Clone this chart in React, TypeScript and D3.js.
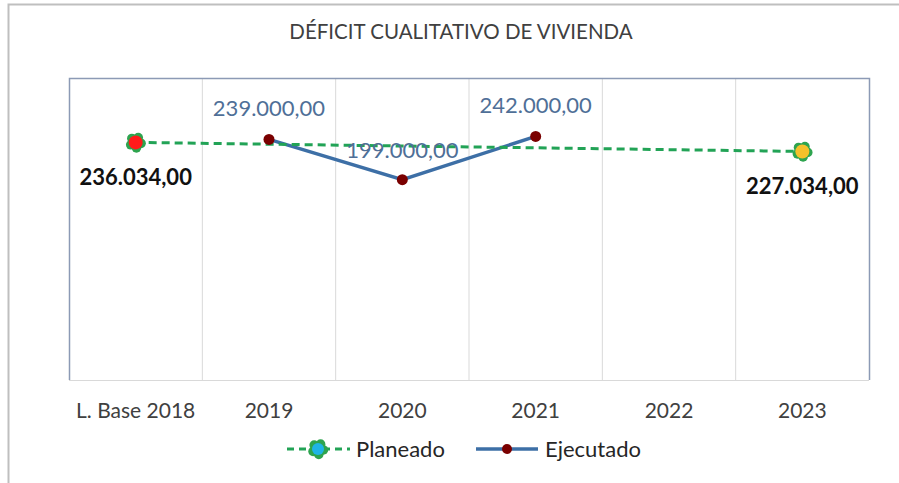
import React from "react";
import * as d3 from "d3";

const categories = ["L. Base 2018", "2019", "2020", "2021", "2022", "2023"];
const planeado: (number | null)[] = [236034, null, null, null, null, 227034];
const ejecutado: (number | null)[] = [null, 239000, 199000, 242000, null, null];
const planeadoLabels = ["236.034,00", "", "", "", "", "227.034,00"];
const ejecutadoLabels = ["", "239.000,00", "199.000,00", "242.000,00", "", ""];
const planeadoFills = ["#FF1A1A", null, null, null, null, "#F5C12A"];
const title = "DÉFICIT CUALITATIVO DE VIVIENDA";
const seriesNames = ["Planeado", "Ejecutado"];

const W = 899;
const H = 483;
const plot = { left: 69, right: 869, top: 78, bottom: 380 };
const FONT = "Lato, 'Open Sans', sans-serif";

function Blob({ cx, cy, fill, inner }: { cx: number; cy: number; fill: string; inner: number }) {
  const angles = [10, 82, 154, 226, 298];
  return (
    <g>
      {angles.map((a) => {
        const r = (a * Math.PI) / 180;
        return <circle key={a} cx={cx + Math.cos(r) * 5.5} cy={cy + Math.sin(r) * 5.5} r={4.8} fill="#2EA44F" />;
      })}
      <circle cx={cx} cy={cy} r={inner} fill={fill} />
    </g>
  );
}

export default function App() {
  const x = d3
    .scaleBand<string>()
    .domain(categories)
    .range([plot.left, plot.right]);
  const cx = (c: string) => (x(c) as number) + x.bandwidth() / 2;
  const y = d3.scaleLinear().domain([0, 300000]).range([plot.bottom, plot.top]);

  const planPts = categories
    .map((c, i) => ({ c, v: planeado[i], i }))
    .filter((d) => d.v !== null) as { c: string; v: number; i: number }[];
  const ejePts = categories
    .map((c, i) => ({ c, v: ejecutado[i], i }))
    .filter((d) => d.v !== null) as { c: string; v: number; i: number }[];

  const line = d3
    .line<{ c: string; v: number }>()
    .x((d) => cx(d.c))
    .y((d) => y(d.v));

  const gridX = categories.slice(1).map((c) => x(c) as number);

  return (
    <svg width={W} height={H} style={{ position: "absolute", left: 0, top: 0 }} fontFamily={FONT}>
      <rect x={0} y={0} width={W} height={H} fill="#fff" />
      <rect x={8.5} y={4.5} width={W + 10} height={H + 10} fill="none" stroke="#BFBFBF" strokeWidth={2} />
      <text x={461} y={39} textAnchor="middle" fontSize={20.5} fill="#404040">
        {title}
      </text>
      {gridX.map((gx, i) => (
        <line key={i} x1={gx} x2={gx} y1={plot.top} y2={plot.bottom} stroke="#D9D9D9" strokeWidth={1} />
      ))}
      <line x1={plot.left} x2={plot.right} y1={plot.bottom + 0.5} y2={plot.bottom + 0.5} stroke="#D9D9D9" />
      <path
        d={`M${plot.left + 0.5},${plot.bottom}V${plot.top + 0.5}H${plot.right + 0.5}V${plot.bottom}`}
        fill="none"
        stroke="#8C9AB5"
        strokeWidth={1.5}
      />
      {categories.map((c) => (
        <text key={c} x={cx(c)} y={418} textAnchor="middle" fontSize={21} fill="#404040">
          {c}
        </text>
      ))}
      {/* Ejecutado */}
      <path d={line(ejePts) || ""} fill="none" stroke="#3D6FA6" strokeWidth={3.5} />
      {/* Planeado */}
      <path d={line(planPts) || ""} fill="none" stroke="#22A356" strokeWidth={3} strokeDasharray="8,5" />
      {ejePts.map((d) => (
        <circle key={d.c} cx={cx(d.c)} cy={y(d.v)} r={5.5} fill="#7A0000" />
      ))}
      {planPts.map((d) => (
        <Blob key={d.c} cx={cx(d.c)} cy={y(d.v)} fill={planeadoFills[d.i] as string} inner={7} />
      ))}
      {ejePts.map((d) => (
        <text
          key={d.c}
          x={cx(d.c)}
          y={d.c === "2020" ? y(d.v) - 22 : y(d.v) - 23.5}
          textAnchor="middle"
          fontSize={22}
          fill="#4F6F97"
        >
          {ejecutadoLabels[d.i]}
        </text>
      ))}
      {planPts.map((d) => (
        <text
          key={d.c}
          x={cx(d.c)}
          y={y(d.v) + 43}
          textAnchor="middle"
          fontSize={22}
          fontWeight="bold"
          fill="#111"
        >
          {planeadoLabels[d.i]}
        </text>
      ))}
      {/* Legend */}
      <g>
        <line x1={287} x2={350} y1={449} y2={449} stroke="#22A356" strokeWidth={3} strokeDasharray="7,5" />
        <Blob cx={318} cy={449} fill="#1FB4E6" inner={6} />
        <text x={356} y={457} fontSize={22} fill="#262626">
          {seriesNames[0]}
        </text>
        <line x1={476} x2={538} y1={449} y2={449} stroke="#3D6FA6" strokeWidth={3.5} />
        <circle cx={507} cy={449} r={5} fill="#7A0000" />
        <text x={545} y={457} fontSize={22} fill="#262626">
          {seriesNames[1]}
        </text>
      </g>
    </svg>
  );
}
